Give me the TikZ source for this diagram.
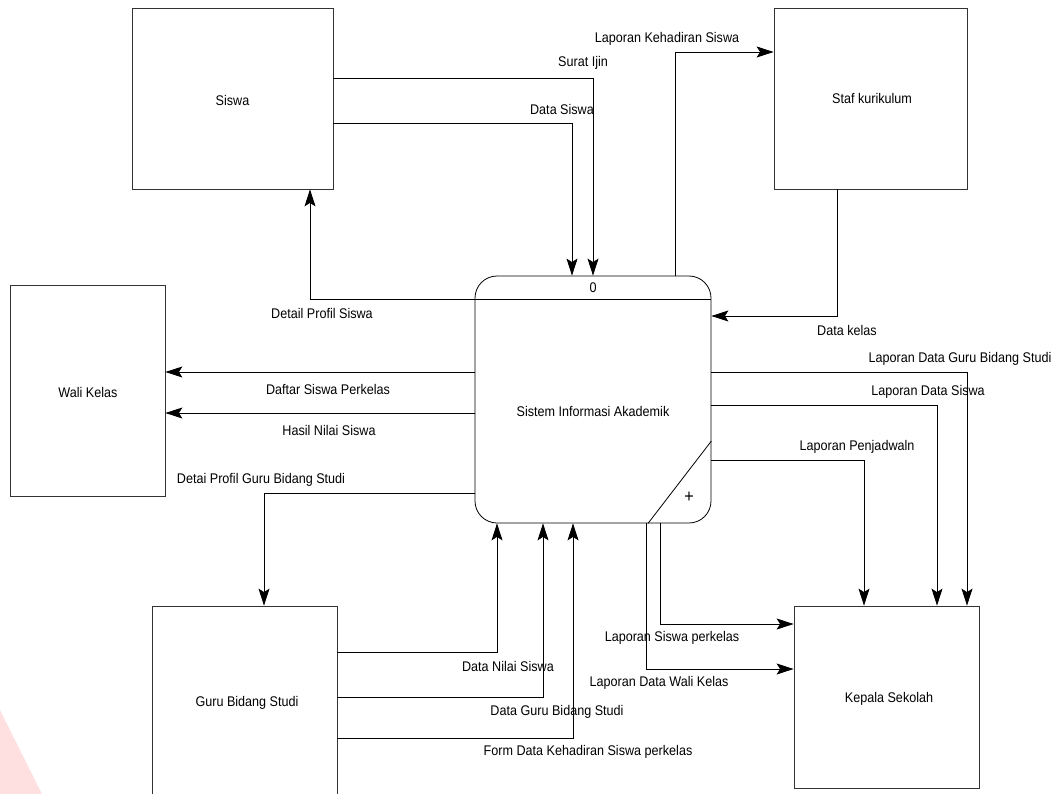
\documentclass[tikz,border=0pt]{standalone}
\usepackage{fontspec}
\setmainfont{Liberation Sans}[FakeStretch=0.9]
\usetikzlibrary{arrows.meta}
\begin{document}
\begin{tikzpicture}[x=1pt,y=-1pt,
  font=\fontsize{14}{16}\selectfont,
  ent/.style={draw=black!80,line width=0.8pt,rectangle,inner sep=0pt},
  flow/.style={draw=black,line width=0.8pt,-{Stealth[length=17pt,width=11pt,inset=3.5pt,fill=black]}},
  lbl/.style={inner sep=0pt,anchor=center}]
\useasboundingbox (0,0) rectangle (1062,794);
\fill[white] (0,0) rectangle (1062,794);
% watermark
\fill[red!12!white] (0,710) -- (42,794) -- (0,794) -- cycle;

% entities
\node[ent,minimum width=201pt,minimum height=181pt] (siswa) at (232.5,98.5) {};
\node[lbl] (tsiswa) at (232.5,100) {Siswa};
\node[ent,minimum width=193pt,minimum height=181pt] (staf) at (870.5,98.5) {};
\node[lbl] (tstaf) at (872,98) {Staf kurikulum};
\node[ent,minimum width=155pt,minimum height=211pt] (wali) at (87.5,390.5) {};
\node[lbl] (twali) at (88,392) {Wali Kelas};
\node[ent,minimum width=185pt,minimum height=194pt] (guru) at (244.5,703) {};
\node[lbl] (tguru) at (247,703) {Guru Bidang Studi};
\node[ent,minimum width=185pt,minimum height=182pt] (kepala) at (886.5,697) {};
\node[lbl] (tkepala) at (889,699) {Kepala Sekolah};

% process
\node[draw=black,line width=0.8pt,rectangle,rounded corners=22pt,minimum width=236pt,minimum height=247pt,inner sep=0pt] (P) at (593,399.5) {};
\draw[line width=0.8pt] (P.west |- 0,299) -- (P.east |- 0,299);
\draw[line width=0.8pt] (P.east |- 0,441) -- (P.south -| 648,0);
\node[lbl] (pnum) at (593,288) {0};
\node[lbl] (pname) at (593,411) {Sistem Informasi Akademik};
\node[lbl,font=\fontsize{18}{18}\selectfont] (pplus) at (689,497) {+};

% flows
\draw[flow] (siswa.east |- 0,78) -| (P.north -| 593,0);
\draw[flow] (siswa.east |- 0,123) -| (P.north -| 572,0);
\draw[flow] (P.west |- 0,299) -| (siswa.south -| 310,0);
\draw[flow] (P.north -| 675,0) |- (staf.west |- 0,52);
\draw[flow] (staf.south -| 837,0) |- (P.east |- 0,316);
\draw[flow] (P.west |- 0,372) -- (wali.east |- 0,372);
\draw[flow] (P.west |- 0,413) -- (wali.east |- 0,413);
\draw[flow] (P.west |- 0,493) -| (guru.north -| 264,0);
\draw[flow] (guru.east |- 0,652) -| (P.south -| 497,0);
\draw[flow] (guru.east |- 0,697) -| (P.south -| 543,0);
\draw[flow] (guru.east |- 0,738) -| (P.south -| 573,0);
\draw[flow] (P.south -| 660,0) |- (kepala.west |- 0,624);
\draw[flow] (P.south -| 646,0) |- (kepala.west |- 0,669);
\draw[flow] (P.east |- 0,460) -| (kepala.north -| 864,0);
\draw[flow] (P.east |- 0,405) -| (kepala.north -| 937,0);
\draw[flow] (P.east |- 0,372) -| (kepala.north -| 967,0);

% labels
\node[lbl] (l1) at (583,63) {Surat Ijin};
\node[lbl] (l2) at (562,109) {Data Siswa};
\node[lbl] (l3) at (667,39) {Laporan Kehadiran Siswa};
\node[lbl] (l4) at (322,313) {Detail Profil Siswa};
\node[lbl] (l5) at (847,330) {Data kelas};
\node[lbl] (l6) at (328,389) {Daftar Siswa Perkelas};
\node[lbl] (l7) at (329,430) {Hasil Nilai Siswa};
\node[lbl] (l8) at (261,480) {Detai Profil Guru Bidang Studi};
\node[lbl] (l9) at (508,666) {Data Nilai Siswa};
\node[lbl] (l10) at (557,712) {Data Guru Bidang Studi};
\node[lbl] (l11) at (588,752) {Form Data Kehadiran Siswa perkelas};
\node[lbl] (l12) at (672,638) {Laporan Siswa perkelas};
\node[lbl] (l13) at (659,683) {Laporan Data Wali Kelas};
\node[lbl] (l14) at (857,447) {Laporan Penjadwaln};
\node[lbl] (l15) at (928,392) {Laporan Data Siswa};
\node[lbl] (l16) at (960,359) {Laporan Data Guru Bidang Studi};
\end{tikzpicture}
\end{document}
